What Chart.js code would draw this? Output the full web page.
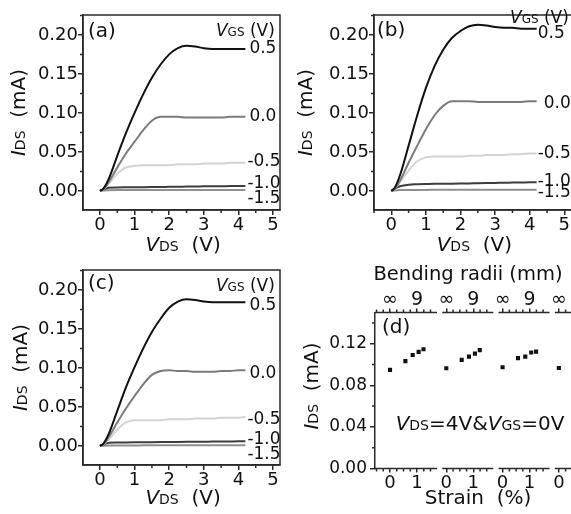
<!DOCTYPE html>
<html>
<head>
<meta charset="utf-8">
<script src="https://cdn.jsdelivr.net/npm/chart.js@4.4.0/dist/chart.umd.min.js"></script>
<style>
html, body { margin: 0; padding: 0; background: #fff; overflow: hidden; width: 571px; height: 514px; position: relative; }
canvas { position: absolute; }
</style>
</head>
<body>
<canvas id="chart_a" width="285" height="255" style="left:0;top:0"></canvas>
<canvas id="chart_b" width="300" height="255" style="left:285px;top:0"></canvas>
<canvas id="chart_c" width="285" height="259" style="left:0;top:255px"></canvas>
<canvas id="chart_d" width="300" height="259" style="left:285px;top:255px"></canvas>
<script>
'use strict';

// ---------- data ----------
const vds = [0, 0.1, 0.25, 0.5, 0.75, 1.0, 1.25, 1.5, 1.75, 2.0, 2.25, 2.5, 2.75, 3.0, 3.25, 3.5, 3.75, 4.0, 4.2];
const vgs_labels = ['0.5', '0.0', '-0.5', '-1.0', '-1.5'];
const ids_ticks = [0, 0.05, 0.10, 0.15, 0.20];
const vds_ticks = [0, 1, 2, 3, 4, 5];

// (a)
const a_p05 = [0, 0.003, 0.015, 0.045, 0.074, 0.100, 0.124, 0.145, 0.162, 0.175, 0.183, 0.186, 0.185, 0.183, 0.182, 0.182, 0.182, 0.182, 0.182];
const a_0 = [0, 0.002, 0.011, 0.030, 0.048, 0.063, 0.078, 0.090, 0.095, 0.095, 0.095, 0.094, 0.094, 0.094, 0.094, 0.094, 0.095, 0.095, 0.095];
const a_m05 = [0, 0.002, 0.009, 0.022, 0.030, 0.032, 0.033, 0.033, 0.033, 0.033, 0.034, 0.034, 0.034, 0.035, 0.035, 0.035, 0.036, 0.036, 0.036];
const a_m10 = [0, 0.002, 0.004, 0.0045, 0.0046, 0.0047, 0.0048, 0.0049, 0.005, 0.0052, 0.0053, 0.0055, 0.0056, 0.0058, 0.0059, 0.006, 0.0062, 0.0063, 0.0064];
const a_m15 = [0, 0.0004, 0.0008, 0.001, 0.001, 0.001, 0.0011, 0.0011, 0.0011, 0.0012, 0.0012, 0.0012, 0.0012, 0.0012, 0.0013, 0.0013, 0.0013, 0.0013, 0.0013];

// (b)
const b_p05 = [0, 0.004, 0.020, 0.058, 0.097, 0.132, 0.160, 0.181, 0.196, 0.205, 0.211, 0.213, 0.212, 0.210, 0.209, 0.209, 0.208, 0.208, 0.208];
const b_0 = [0, 0.003, 0.013, 0.036, 0.058, 0.079, 0.097, 0.109, 0.115, 0.115, 0.115, 0.114, 0.114, 0.114, 0.114, 0.114, 0.114, 0.115, 0.115];
const b_m05 = [0, 0.003, 0.011, 0.026, 0.038, 0.043, 0.044, 0.044, 0.044, 0.044, 0.045, 0.045, 0.046, 0.046, 0.046, 0.047, 0.047, 0.048, 0.048];
const b_m10 = [0, 0.003, 0.006, 0.008, 0.0085, 0.0088, 0.009, 0.009, 0.0092, 0.0094, 0.0096, 0.0098, 0.010, 0.0102, 0.0104, 0.0106, 0.0108, 0.011, 0.011];
const b_m15 = [0, 0.0005, 0.001, 0.0012, 0.0013, 0.0013, 0.0014, 0.0014, 0.0014, 0.0014, 0.0015, 0.0015, 0.0015, 0.0015, 0.0015, 0.0015, 0.0015, 0.0015, 0.0015];

// (c)
const c_p05 = [0, 0.003, 0.015, 0.045, 0.075, 0.101, 0.125, 0.146, 0.163, 0.177, 0.185, 0.188, 0.187, 0.185, 0.184, 0.184, 0.184, 0.184, 0.184];
const c_0 = [0, 0.002, 0.011, 0.030, 0.048, 0.064, 0.079, 0.091, 0.096, 0.097, 0.096, 0.096, 0.095, 0.095, 0.095, 0.096, 0.096, 0.097, 0.097];
const c_m05 = [0, 0.002, 0.008, 0.021, 0.030, 0.033, 0.033, 0.033, 0.033, 0.034, 0.034, 0.034, 0.035, 0.035, 0.035, 0.036, 0.036, 0.036, 0.037];
const c_m10 = [0, 0.002, 0.004, 0.0044, 0.0045, 0.0046, 0.0047, 0.0048, 0.0049, 0.005, 0.0051, 0.0052, 0.0053, 0.0054, 0.0055, 0.0056, 0.0057, 0.0058, 0.0058];
const c_m15 = [0, 0.0003, 0.0005, 0.0006, 0.0006, 0.0006, 0.0007, 0.0007, 0.0007, 0.0007, 0.0007, 0.0008, 0.0008, 0.0008, 0.0008, 0.0008, 0.0008, 0.0008, 0.0008];

// (d) bending cycles, IDS at VDS=4V, VGS=0V
const d_strain = [0, 0.57, 0.84, 1.06, 1.24];
const d_ids_cycle1 = [0.0948, 0.1032, 0.1092, 0.1121, 0.1147];
const d_ids_cycle2 = [0.0964, 0.1044, 0.1076, 0.1105, 0.1138];
const d_ids_cycle3 = [0.0974, 0.1061, 0.1076, 0.1115, 0.1124];
const d_ids_cycle4 = [0.0967];
const d_ids_ticks = [0, 0.04, 0.08, 0.12];
const d_strain_ticks = [0, 1];
const d_strain_tick_labels = ['0', '1'];
const d_radius_tick_labels = ['\u221e', '9'];

// ---------- style ----------
const font_family = '"DejaVu Sans", sans-serif';
const axis_color = '#2a2a2a';
const text_color = '#111111';
const line_colors = ['#111111', '#7b7b7b', '#d4d4d4', '#3d3d3d', '#8f8f8f'];
const cycle_gap = 2.085;      // horizontal spacing of the bending cycles in panel (d)
const seg_from = -0.15;
const seg_to = 1.74;

const plain = (s) => `${s}px ${font_family}`;
const ital = (s) => `italic ${s}px ${font_family}`;

const draw_rich = (ctx, parts, x, y, align, angle) => {
    ctx.save();
    ctx.translate(x, y);
    if (angle) ctx.rotate(angle);
    ctx.textBaseline = 'alphabetic';
    ctx.textAlign = 'left';
    ctx.fillStyle = text_color;
    const widths = parts.map(p => { ctx.font = p.f; return ctx.measureText(p.t).width; });
    const total = widths.reduce((s, w) => s + w, 0);
    let cx = align === 'center' ? -total / 2 : 0;
    parts.forEach((p, i) => { ctx.font = p.f; ctx.fillText(p.t, cx, 0); cx += widths[i]; });
    ctx.restore();
};

const ids_title = [{t: 'I', f: ital(20)}, {t: 'DS', f: plain(14)}, {t: '  (mA)', f: plain(20)}];
const vds_title = [{t: 'V', f: ital(20)}, {t: 'DS', f: plain(14)}, {t: '  (V)', f: plain(20)}];
const vgs_title = [{t: 'V', f: ital(17)}, {t: 'GS', f: plain(12)}, {t: ' (V)', f: plain(17)}];

const iv_deco = (cfg) => ({
    id: 'iv_deco',
    afterDraw(chart) {
        const {ctx, chartArea: ca, scales: {x, y}} = chart;
        ctx.save();
        ctx.strokeStyle = axis_color;
        ctx.lineWidth = 1.5;
        ctx.strokeRect(ca.left, ca.top, ca.right - ca.left, ca.bottom - ca.top);

        // minor ticks
        ctx.beginPath();
        for (let k = -1; k <= 11; k += 2) {
            const v = k * 0.5;
            if (v < x.min || v > x.max) continue;
            const px = x.getPixelForValue(v);
            ctx.moveTo(px, ca.bottom);
            ctx.lineTo(px, ca.bottom + 3);
        }
        for (let k = -1; k <= 9; k += 2) {
            const v = k * 0.025;
            if (v < y.min || v > y.max) continue;
            const py = y.getPixelForValue(v);
            ctx.moveTo(ca.left - 3, py);
            ctx.lineTo(ca.left, py);
        }
        ctx.stroke();

        // VGS labels at the curve ends
        ctx.fillStyle = text_color;
        ctx.font = plain(17);
        ctx.textBaseline = 'middle';
        ctx.textAlign = 'left';
        chart.data.datasets.forEach((ds, i) => {
            const pts = chart.getDatasetMeta(i).data;
            const last = pts[pts.length - 1];
            ctx.fillText(vgs_labels[i], last.x + cfg.label_dx[i], last.y + cfg.label_dy[i]);
        });

        // panel letter
        ctx.font = plain(20);
        ctx.fillText(cfg.letter, ca.left + cfg.letter_dx, ca.top + cfg.letter_dy);

        draw_rich(ctx, vgs_title, x.getPixelForValue(cfg.vgs_at), cfg.vgs_base, 'left');
        draw_rich(ctx, vds_title, x.getPixelForValue(2.4), cfg.x_title_base, 'center');
        draw_rich(ctx, ids_title, cfg.y_title_base, (ca.top + ca.bottom) / 2, 'center', -Math.PI / 2);
        ctx.restore();
    }
});

const make_iv = (canvas_id, curves, cfg) => {
    const tick_font = {family: font_family, size: 18};
    return new Chart(document.getElementById(canvas_id), {
        type: 'line',
        data: {
            datasets: curves.map((ids, i) => ({
                data: vds.map((v, k) => ({x: v, y: ids[k]})),
                borderColor: line_colors[i],
                borderWidth: 2,
                pointRadius: 0,
                cubicInterpolationMode: 'monotone',
            })),
        },
        options: {
            responsive: false,
            animation: false,
            events: [],
            layout: {padding: {top: 15, right: cfg.pad_right, bottom: 0, left: 0}},
            plugins: {legend: {display: false}, tooltip: {enabled: false}},
            scales: {
                x: {
                    type: 'linear',
                    min: cfg.xmin,
                    max: cfg.xmax,
                    afterBuildTicks: (s) => { s.ticks = vds_ticks.map(v => ({value: v})); },
                    afterFit: (s) => { s.height = cfg.x_height; },
                    grid: {drawOnChartArea: false, tickLength: 5, color: axis_color, lineWidth: 1.5},
                    border: {color: axis_color, width: 1.5},
                    ticks: {font: tick_font, color: text_color, padding: 0, maxRotation: 0, autoSkip: false,
                        callback: (v) => String(v)},
                },
                y: {
                    type: 'linear',
                    min: -0.0245,
                    max: 0.2255,
                    afterBuildTicks: (s) => { s.ticks = ids_ticks.map(v => ({value: v})); },
                    afterFit: (s) => { s.width = cfg.y_width; },
                    grid: {drawOnChartArea: false, tickLength: 5, color: axis_color, lineWidth: 1.5},
                    border: {color: axis_color, width: 1.5},
                    ticks: {font: tick_font, color: text_color, padding: 0, autoSkip: false,
                        callback: (v) => v.toFixed(2)},
                },
            },
        },
        plugins: [iv_deco(cfg)],
    });
};

make_iv('chart_a', [a_p05, a_0, a_m05, a_m10, a_m15], {
    xmin: -0.49, xmax: 5.2, y_width: 83, pad_right: 5, x_height: 45,
    label_dx: [4, 4, 2, 2, 2], label_dy: [0, 0, -1, -2, 9],
    letter: '(a)', letter_dx: 5, letter_dy: 17,
    vgs_at: 3.35, vgs_base: 36, x_title_base: 251, y_title_base: 25,
});

make_iv('chart_b', [b_p05, b_0, b_m05, b_m10, b_m15], {
    xmin: -0.5, xmax: 5.25, y_width: 89, pad_right: 12, x_height: 45,
    label_dx: [1, 7, 1, 1, 1], label_dy: [5, 2.5, 0, -1, 2.5],
    letter: '(b)', letter_dx: 3, letter_dy: 16,
    vgs_at: 3.43, vgs_base: 23, x_title_base: 251, y_title_base: 27,
});

make_iv('chart_c', [c_p05, c_0, c_m05, c_m10, c_m15], {
    xmin: -0.49, xmax: 5.2, y_width: 83, pad_right: 5, x_height: 49,
    label_dx: [4, 4, 2, 2, 2], label_dy: [3, 3.5, 3, -2, 9.5],
    letter: '(c)', letter_dx: 5, letter_dy: 14,
    vgs_at: 3.35, vgs_base: 36, x_title_base: 249, y_title_base: 27,
});

// ---------- panel (d) ----------
const d_cycles = [d_ids_cycle1, d_ids_cycle2, d_ids_cycle3, d_ids_cycle4];
const d_points = d_cycles.flatMap((ids, c) => ids.map((v, k) => ({x: d_strain[k] + c * cycle_gap, y: v})));
const d_xmin = -0.556;
const d_xmax = 6.926;
const d_tick_values = d_cycles.flatMap((ids, c) => d_strain_ticks.map(s => s + c * cycle_gap)).filter(v => v <= d_xmax);

const d_deco = {
    id: 'd_deco',
    afterDraw(chart) {
        const {ctx, chartArea: ca, scales: {x, y}} = chart;
        ctx.save();
        ctx.strokeStyle = axis_color;
        ctx.lineWidth = 1.5;
        ctx.beginPath();
        d_cycles.forEach((ids, c) => {
            const off = c * cycle_gap;
            const lo = c === 0 ? x.min : off + seg_from;
            const hi = Math.min(off + seg_to, x.max);
            const x0 = x.getPixelForValue(lo);
            const x1 = x.getPixelForValue(hi);
            ctx.moveTo(x0, ca.top); ctx.lineTo(x1, ca.top);
            ctx.moveTo(x0, ca.bottom); ctx.lineTo(x1, ca.bottom);
            for (let k = -2; k <= 7; k++) {
                if (k % 4 === 0) continue;
                const v = off + k * 0.25;
                if (v < lo || v > hi) continue;
                const px = x.getPixelForValue(v);
                ctx.moveTo(px, ca.bottom); ctx.lineTo(px, ca.bottom + 3);
                ctx.moveTo(px, ca.top); ctx.lineTo(px, ca.top - 3);
            }
        });
        [0.02, 0.06, 0.10, 0.14].forEach(v => {
            const py = y.getPixelForValue(v);
            ctx.moveTo(ca.left - 3, py); ctx.lineTo(ca.left, py);
        });
        ctx.stroke();

        ctx.fillStyle = text_color;
        ctx.textBaseline = 'middle';
        ctx.textAlign = 'left';
        ctx.font = plain(20);
        ctx.fillText('(d)', ca.left + 7, ca.top + 15.5);

        draw_rich(ctx, [
            {t: 'V', f: ital(20)}, {t: 'DS', f: plain(14)}, {t: '=4V&', f: plain(20)},
            {t: 'V', f: ital(20)}, {t: 'GS', f: plain(14)}, {t: '=0V', f: plain(20)},
        ], 195, 175, 'center');
        draw_rich(ctx, [{t: 'Bending radii (mm)', f: plain(19.5)}], 183, 25, 'center');
        draw_rich(ctx, [{t: 'Strain  (%)', f: plain(20)}], 193, 249, 'center');
        draw_rich(ctx, ids_title, 33, 131, 'center', -Math.PI / 2);
        ctx.restore();
    }
};

const d_tick_font = {family: font_family, size: 18};
new Chart(document.getElementById('chart_d'), {
    type: 'scatter',
    data: {
        datasets: [{
            data: d_points,
            pointStyle: 'rect',
            pointRadius: 2.9,
            backgroundColor: '#111111',
            borderWidth: 0,
        }],
    },
    options: {
        responsive: false,
        animation: false,
        events: [],
        layout: {padding: {top: 0, right: 8, bottom: 0, left: 0}},
        plugins: {legend: {display: false}, tooltip: {enabled: false}},
        scales: {
            x: {
                type: 'linear',
                min: d_xmin,
                max: d_xmax,
                afterBuildTicks: (s) => { s.ticks = d_tick_values.map(v => ({value: v})); },
                afterFit: (s) => { s.height = 45.5; },
                grid: {drawOnChartArea: false, tickLength: 4, color: axis_color, lineWidth: 1.5},
                border: {display: false},
                ticks: {font: d_tick_font, color: text_color, padding: 0, maxRotation: 0, autoSkip: false,
                    callback: (v, i) => d_strain_tick_labels[i % d_strain_ticks.length]},
            },
            x_top: {
                type: 'linear',
                position: 'top',
                min: d_xmin,
                max: d_xmax,
                afterBuildTicks: (s) => { s.ticks = d_tick_values.map(v => ({value: v})); },
                afterFit: (s) => { s.height = 57.5; },
                grid: {drawOnChartArea: false, tickLength: 4, color: axis_color, lineWidth: 1.5},
                border: {display: false},
                ticks: {font: {family: font_family, size: 19}, color: text_color, padding: -3, maxRotation: 0, autoSkip: false,
                    callback: (v, i) => d_radius_tick_labels[i % d_strain_ticks.length]},
            },
            y: {
                type: 'linear',
                min: 0,
                max: 0.15,
                afterBuildTicks: (s) => { s.ticks = d_ids_ticks.map(v => ({value: v})); },
                afterFit: (s) => { s.width = 90; },
                grid: {drawOnChartArea: false, tickLength: 5, color: axis_color, lineWidth: 1.5},
                border: {color: axis_color, width: 1.5},
                ticks: {font: {family: font_family, size: 17}, color: text_color, padding: 3, autoSkip: false,
                    callback: (v) => v.toFixed(2)},
            },
        },
    },
    plugins: [d_deco],
});
</script>
</body>
</html>
